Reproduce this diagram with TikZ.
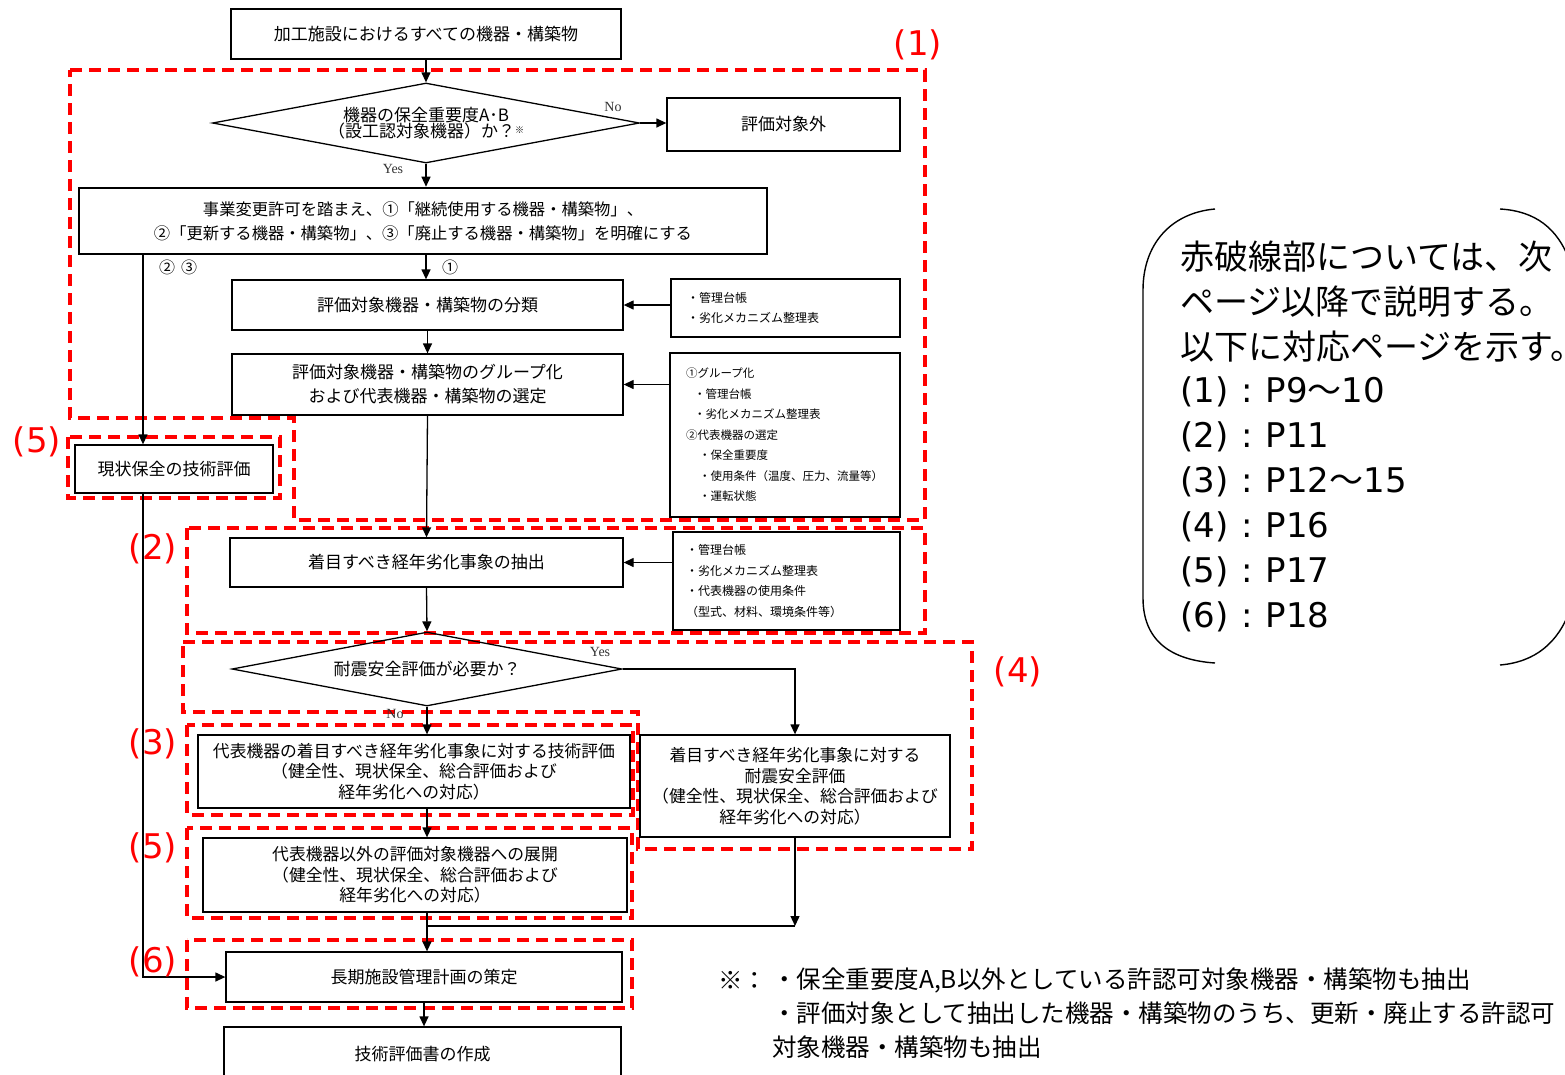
\documentclass[tikz,border=0pt]{standalone}
\usepackage{fontspec}
\setmainfont{Noto Sans CJK JP}
\newfontfamily\jp{Noto Sans CJK JP}
\newfontfamily\lser{Liberation Serif}
\newfontfamily\dv{DejaVu Sans}
\usetikzlibrary{arrows.meta,shapes.geometric}
\tikzset{
  box/.style={draw, line width=1.3pt, inner sep=0pt, align=center, font=\fontsize{17}{24}\selectfont},
  box3/.style={box, font=\fontsize{16.8}{20.5}\selectfont},
  rbox/.style={draw, line width=1.3pt, inner ysep=0pt, align=left, font=\fontsize{12}{20.5}\selectfont},
  dia/.style={draw, diamond, line width=1.3pt, inner sep=0pt, align=center, font=\fontsize{17}{16}\selectfont},
  arr/.style={line width=1.3pt, -{Triangle[length=10pt,width=9pt]}},
  ln/.style={line width=1.3pt},
  yn/.style={font=\lser\fontsize{14}{14}\selectfont, text=black!80, inner sep=0pt},
  circ/.style={font=\fontsize{16}{16}\selectfont, inner sep=0pt},
  reg/.style={draw=red, line width=3.3pt, dash pattern=on 12pt off 7pt},
  rlab/.style={text=red, font=\dv\fontsize{34}{34}\selectfont, inner sep=0pt},
  bub/.style={font=\fontsize{34}{34}\selectfont, inner sep=0pt, anchor=west},
  note/.style={font=\fontsize{24.5}{25}\selectfont, inner sep=0pt, anchor=west}
}
\newcommand{\pg}[2]{{\dv(#1)\hspace{13pt}:\hspace{13pt}P#2}}
\begin{document}
\begin{tikzpicture}[x=1pt,y=-1pt]
\useasboundingbox (0,0) rectangle (1565,1074);
\fill[white] (0,0) rectangle (1565,1074);

% red dashed regions
\draw[reg] (70,70) -- (925,70) -- (925,520) -- (294,520) -- (294,418) -- (70,418) -- cycle;
\draw[reg] (68,437) rectangle (280,498);
\draw[reg] (187,528) rectangle (925,633);
\draw[reg] (183,642) -- (972,642) -- (972,849) -- (638,849) -- (638,712) -- (183,712) -- cycle;
\draw[reg] (187,725) rectangle (633,815);
\draw[reg] (187,828) rectangle (632,918);
\draw[reg] (187,940) rectangle (632,1008);

% nodes
\node[box, minimum width=390pt, minimum height=50pt] (n0) at (426,34) {加工施設におけるすべての機器・構築物};
\node[dia, minimum width=427pt, minimum height=80pt, aspect=5.3] (d1) at (426,123) {機器の保全重要度A･B\\（設工認対象機器）か？\raisebox{4pt}{\fontsize{9}{9}\selectfont ※}};
\node[box, minimum width=233pt, minimum height=53pt] (outA) at (783.5,124.5) {評価対象外};
\node[box, line width=2.6pt, minimum width=688pt, minimum height=66pt, font=\fontsize{16.3}{24}\selectfont] (n2) at (423,221) {事業変更許可を踏まえ、①「継続使用する機器・構築物」、\\②「更新する機器・構築物」、③「廃止する機器・構築物」を明確にする};
\node[box, minimum width=391pt, minimum height=50pt] (n3) at (427.5,305) {評価対象機器・構築物の分類};
\node[rbox, inner xsep=16pt, text width=197pt, minimum height=58pt] (r1) at (785.5,308) {・管理台帳\\・劣化メカニズム整理表};
\node[box, minimum width=391pt, minimum height=61pt] (n4) at (427.5,384.5) {評価対象機器・構築物のグループ化\\および代表機器・構築物の選定};
\node[rbox, inner xsep=16pt, text width=198pt, minimum height=164pt, font=\fontsize{11.5}{20.5}\selectfont] (r2) at (785,435) {①グループ化\\\hspace*{8pt}・管理台帳\\\hspace*{8pt}・劣化メカニズム整理表\\②代表機器の選定\\\hspace*{13pt}・保全重要度\\\hspace*{13pt}・使用条件（温度、圧力、流量等）\\\hspace*{13pt}・運転状態};
\node[box, minimum width=198pt, minimum height=48pt] (n5) at (174,469) {現状保全の技術評価};
\node[box, minimum width=393pt, minimum height=49pt] (n6) at (426.5,562.5) {着目すべき経年劣化事象の抽出};
\node[rbox, inner xsep=13pt, text width=201pt, minimum height=98pt] (r3) at (786.5,581) {・管理台帳\\・劣化メカニズム整理表\\・代表機器の使用条件\\（型式、材料、環境条件等）};
\node[dia, minimum width=390pt, minimum height=74pt, aspect=5.3] (d2) at (427,669) {耐震安全評価が必要か？};
\node[box3, minimum width=432pt, minimum height=73pt] (n7) at (414,771.5) {代表機器の着目すべき経年劣化事象に対する技術評価\\（健全性、現状保全、総合評価および\\経年劣化への対応）};
\node[box3, minimum width=310pt, minimum height=102pt] (n8) at (795,786) {着目すべき経年劣化事象に対する\\耐震安全評価\\（健全性、現状保全、総合評価および\\経年劣化への対応）};
\node[box3, minimum width=424pt, minimum height=74pt] (n9) at (415,875) {代表機器以外の評価対象機器への展開\\（健全性、現状保全、総合評価および\\経年劣化への対応）};
\node[box, minimum width=396pt, minimum height=50pt] (n10) at (424,977) {長期施設管理計画の策定};
\node[box, minimum width=397pt, minimum height=54pt] (n11) at (422.5,1054) {技術評価書の作成};

% helper coordinates
\coordinate (l1) at (143,0);
\coordinate (j) at (795,926);

% connectors
\draw[arr] (n0.south) -- (d1.north);
\draw[arr] (d1.east) -- (d1.east -| outA.west);
\draw[arr] (d1.south) -- (d1.south |- n2.north);
\draw[arr] (d1.south |- n2.south) -- (d1.south |- n3.north);
\draw[arr] (l1 |- n2.south) -- (l1 |- n5.north);
\draw[arr] (l1 |- n5.south) -- (l1 |- n10.west) -- (n10.west);
\draw[arr] (r1.west |- n3.east) -- (n3.east);
\draw[arr] (n3.south) -- (n4.north);
\draw[arr] (r2.west |- n4.east) -- (n4.east);
\draw[arr] (n4.south) -- (n6.north);
\draw[arr] (r3.west |- n6.east) -- (n6.east);
\draw[arr] (n6.south) -- (d2.north);
\draw[arr] (d2.south) -- (d2.south |- n7.north);
\draw[arr] (d2.east) -| (n8.north);
\draw[arr] (d2.south |- n7.south) -- (d2.south |- n9.north);
\draw[arr] (n8.south) -- (j);
\draw[ln] (j) -- (j -| d2.south);
\draw[arr] (d2.south |- n9.south) -- (d2.south |- n10.north);
\draw[arr] (n10.south) -- (n10.south |- n11.north);

% connector labels
\node[yn] (lno1) at (613,107) {No};
\node[yn] (lyes1) at (393,169) {Yes};
\node[circ] (l23) at (178,267) {②\hspace{6pt}③};
\node[circ] (l1b) at (450,267) {①};
\node[yn] (lyes2) at (600,652) {Yes};
\node[yn] (lno2) at (395,714) {No};

% red labels
\node[rlab] (t1) at (918,45) {(1)};
\node[rlab] (t5a) at (37,442) {(5)};
\node[rlab] (t2) at (153,549) {(2)};
\node[rlab] (t4) at (1018,672) {(4)};
\node[rlab] (t3) at (153,744) {(3)};
\node[rlab] (t5b) at (153,848) {(5)};
\node[rlab] (t6) at (153,962) {(6)};

% bubble
\draw[line width=1.4pt] (1215,209) .. controls (1170,213) and (1143,245) .. (1143,290) -- (1143,598) .. controls (1143,640) and (1170,660) .. (1215,663);
\draw[line width=1.4pt] (1500,209) .. controls (1535,211) and (1558,228) .. (1570,262);
\draw[line width=1.4pt] (1570,610) .. controls (1558,643) and (1535,662) .. (1500,665);
\node[bub] (b1) at (1180,257) {赤破線部については、次};
\node[bub] (b2) at (1180,302) {ページ以降で説明する。};
\node[bub] (b3) at (1180,347) {以下に対応ページを示す。};
\node[bub] (b4) at (1180,392) {\pg{1}{9}～{\dv 10}};
\node[bub] (b5) at (1180,437) {\pg{2}{11}};
\node[bub] (b6) at (1180,482) {\pg{3}{12}～{\dv 15}};
\node[bub] (b7) at (1180,527) {\pg{4}{16}};
\node[bub] (b8) at (1180,572) {\pg{5}{17}};
\node[bub] (b9) at (1180,617) {\pg{6}{18}};

% footnote
\node[note] (f0) at (718,980) {※：};
\node[note] (f1) at (772,980) {・保全重要度A,B以外としている許認可対象機器・構築物も抽出};
\node[note] (f2) at (772,1013) {・評価対象として抽出した機器・構築物のうち、更新・廃止する許認可};
\node[note] (f3) at (772,1047) {対象機器・構築物も抽出};
\end{tikzpicture}
\end{document}
